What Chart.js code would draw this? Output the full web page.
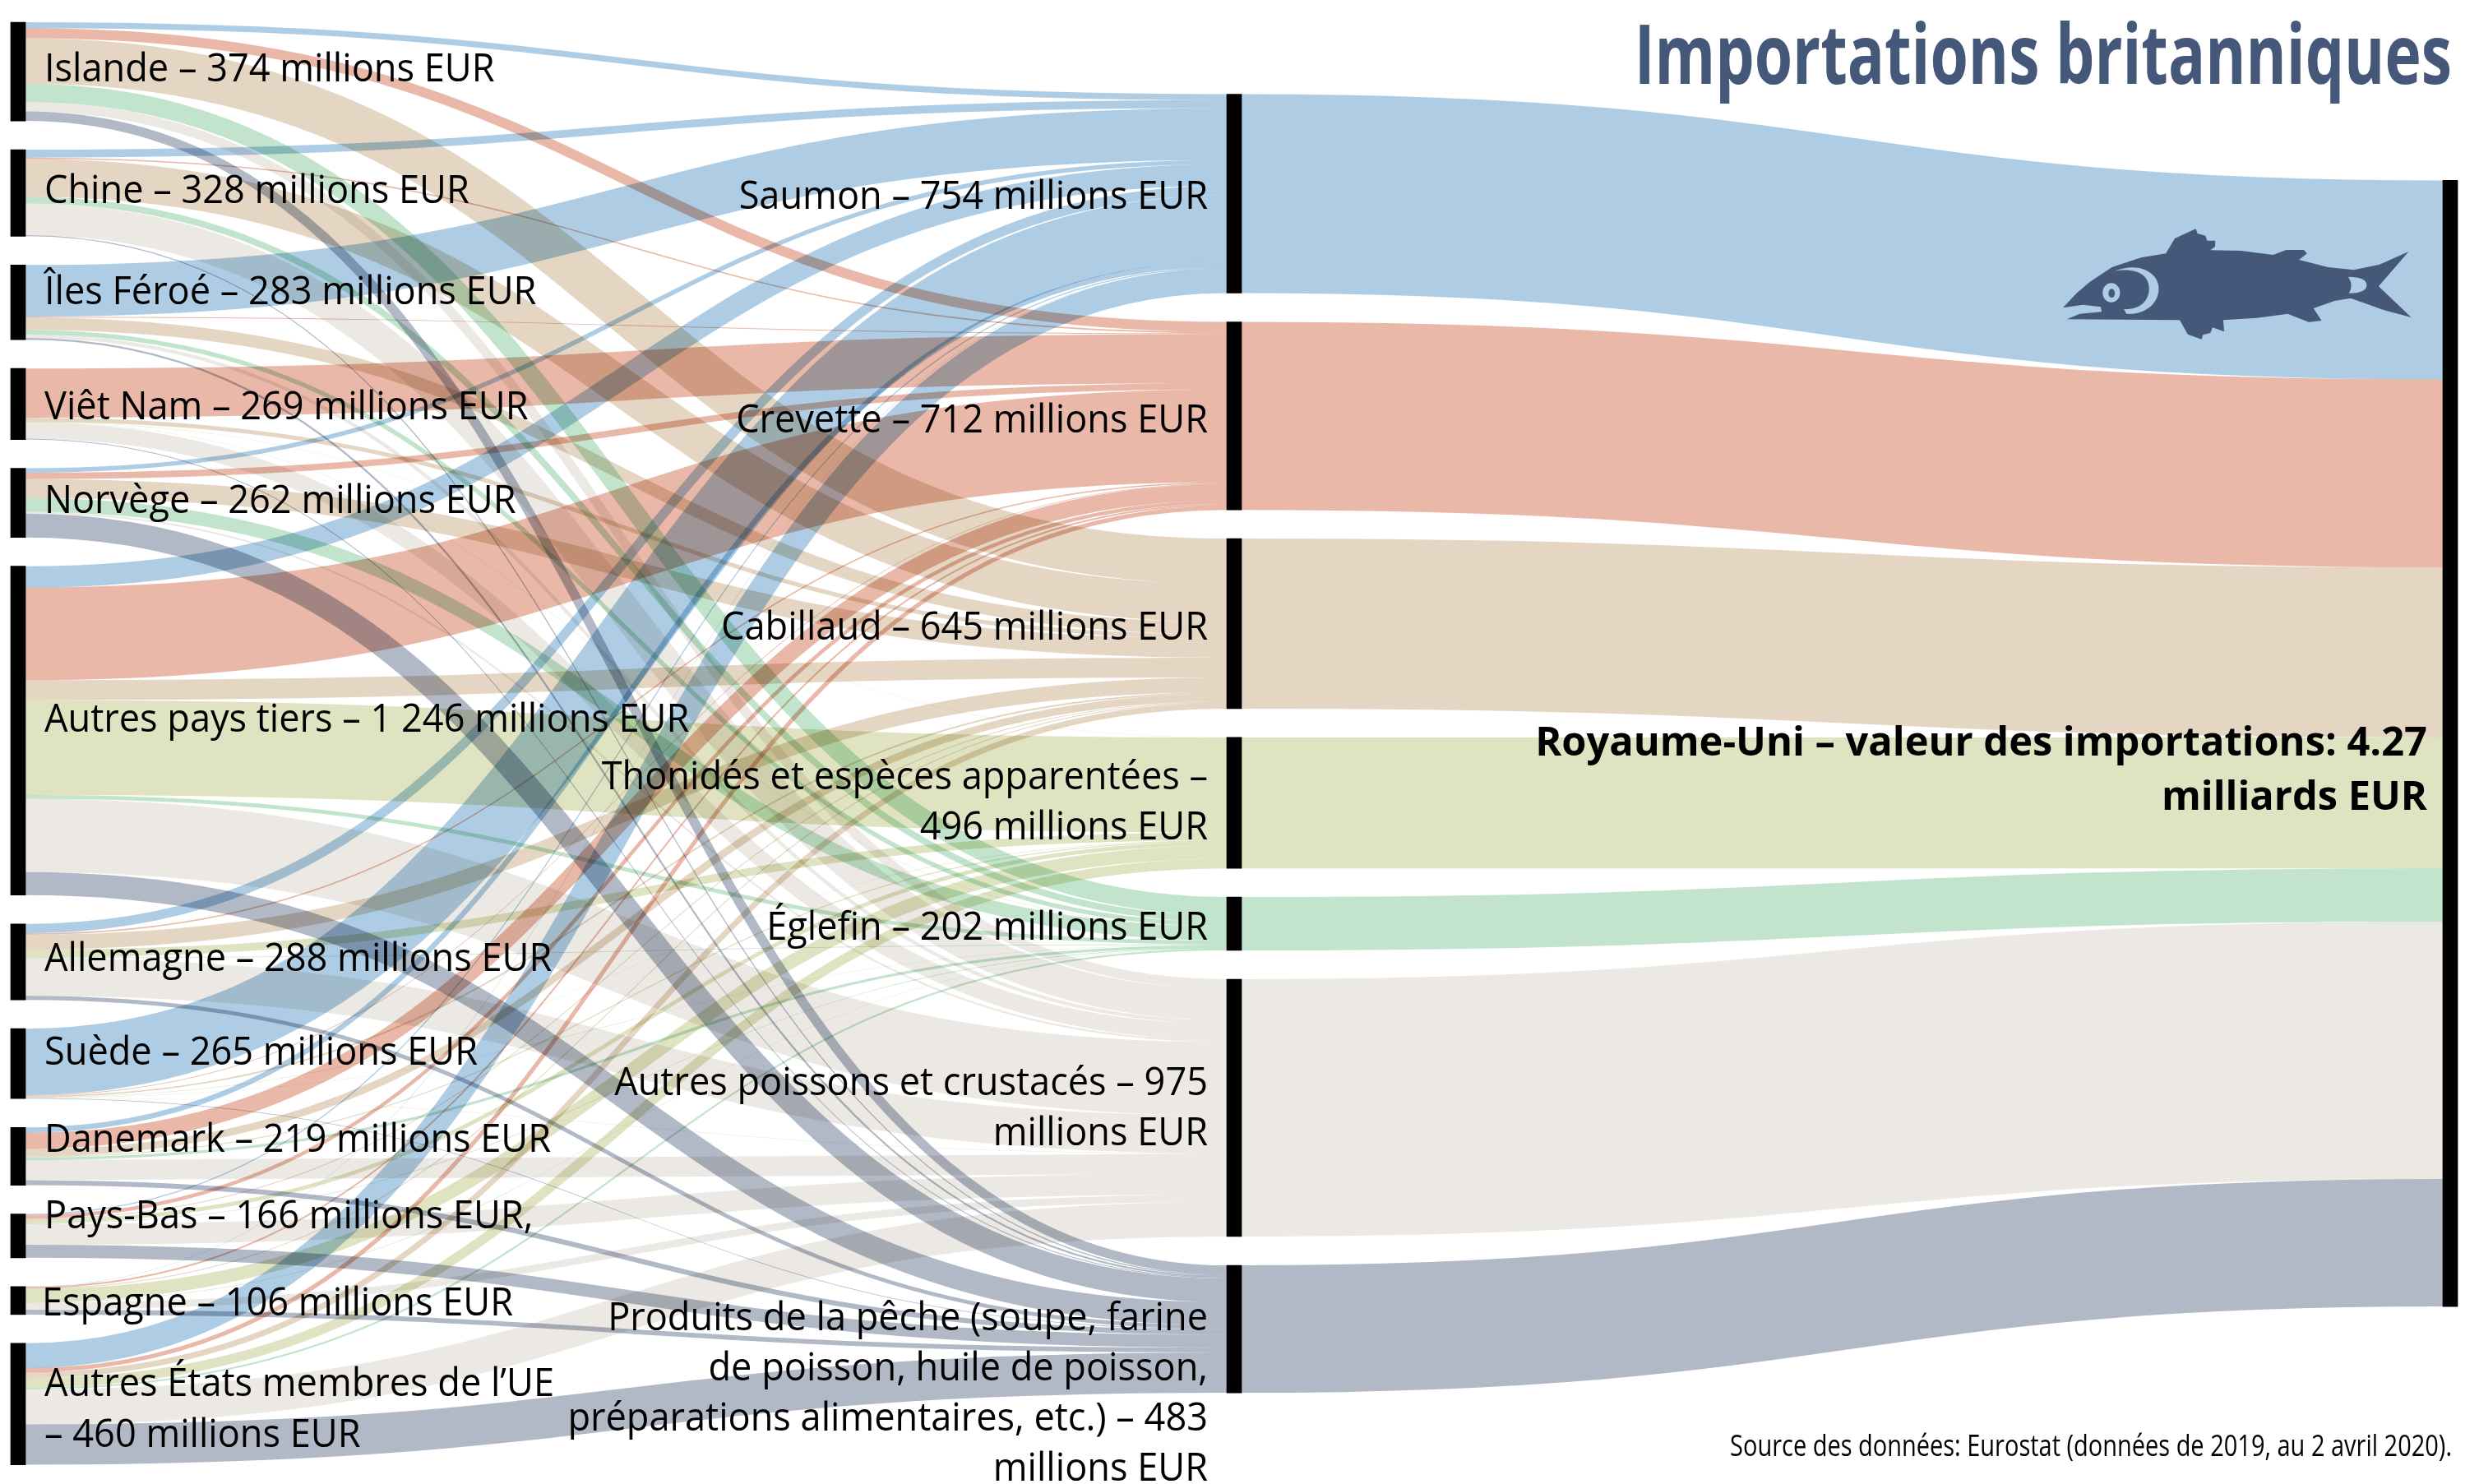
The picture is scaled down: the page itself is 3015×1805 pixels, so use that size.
<!DOCTYPE html>
<html lang="fr">
<head>
<meta charset="UTF-8">
<title>Importations britanniques</title>
<script src="https://cdn.jsdelivr.net/npm/chart.js"></script>
<style>
  html, body { margin: 0; padding: 0; background: #fff; }
  canvas { display: block; }
</style>
</head>
<body>
<canvas id="chart" width="3015" height="1805"></canvas>
<script>
// pays d'origine, de haut en bas
const origins = ['Islande', 'Chine', 'Îles Féroé', 'Viêt Nam', 'Norvège', 'Autres pays tiers',
  'Allemagne', 'Suède', 'Danemark', 'Pays-Bas', 'Espagne', 'Autres États membres'];
const products = ['Saumon', 'Crevette', 'Cabillaud', 'Thonidés', 'Églefin', 'Autres', 'Produits'];

// millions EUR, un tableau par produit, même ordre que origins
const saumon    = [23, 30, 196, 0, 17, 81, 36, 252, 20, 4, 1, 94];
const crevette  = [38, 5, 3, 186, 24, 351, 5, 2, 62, 14, 6, 16];
const cabillaud = [172, 144, 47, 16, 72, 75, 56, 6, 28, 3, 3, 22];
const thonides  = [0, 0, 0, 1, 0, 359, 30, 1, 4, 15, 50, 36];
const eglefin   = [69, 25, 17, 1, 52, 15, 2, 1, 10, 2, 1, 7];
const autres    = [36, 120, 13, 62, 7, 278, 144, 1, 76, 79, 27, 132];
const peche     = [36, 4, 7, 3, 90, 87, 15, 2, 19, 49, 18, 153];
const flows = [saumon, crevette, cabillaud, thonides, eglefin, autres, peche];

const productColors = ['#aecde4', '#e9b8a8', '#e4d6c3', '#e0e3c2', '#c2e4cc', '#ece9e4', '#b1b8c6'];

const originLabels = [
  ['Islande – 374 millions EUR'], ['Chine – 328 millions EUR'], ['Îles Féroé – 283 millions EUR'],
  ['Viêt Nam – 269 millions EUR'], ['Norvège – 262 millions EUR'], ['Autres pays tiers – 1 246 millions EUR'],
  ['Allemagne – 288 millions EUR'], ['Suède – 265 millions EUR'], ['Danemark – 219 millions EUR'],
  ['Pays-Bas – 166 millions EUR,'], ['Espagne – 106 millions EUR'],
  ['Autres États membres de l’UE', '– 460 millions EUR']
];
const productLabels = [
  ['Saumon – 754 millions EUR'], ['Crevette – 712 millions EUR'], ['Cabillaud – 645 millions EUR'],
  ['Thonidés et espèces apparentées –', '496 millions EUR'], ['Églefin – 202 millions EUR'],
  ['Autres poissons et crustacés – 975', 'millions EUR'],
  ['Produits de la pêche (soupe, farine', 'de poisson, huile de poisson,', 'préparations alimentaires, etc.) – 483', 'millions EUR']
];

// mise en page : ligne de base de la première ligne de chaque étiquette
const originBaselines = [99, 247, 370, 510, 624, 890, 1181, 1295, 1401, 1494, 1600, 1698];
const productBaselines = [254, 526, 778, 960, 1143, 1332, 1618];
const LINE_H = 61;
const GAP = 109;          // écart entre deux noeuds, en millions EUR
const NODE_W = 18;
const COL_W = 1479;       // distance entre deux colonnes, en pixels
const SQUEEZE = 0.94;     // la police d'origine est plus étroite

const sum = a => a.reduce((s, v) => s + v, 0);
const originTotals = origins.map((_, i) => sum(flows.map(f => f[i])));
const productTotals = flows.map(sum);
const grandTotal = sum(productTotals);

// empile les noeuds d'une colonne, centrée sur la colonne la plus haute
const leftSpan = sum(originTotals) + GAP * (origins.length - 1);
function stack(totals, gap) {
  const span = sum(totals) + gap * (totals.length - 1);
  let y = (leftSpan - span) / 2;
  return totals.map(t => { const top = y; y += t + gap; return top; });
}
const originTops = stack(originTotals, GAP);
const productTops = stack(productTotals, GAP);
const sinkTop = stack([grandTotal], 0)[0];

const nodeBars = [
  ...originTotals.map((t, i) => ({ x: 0, y: [originTops[i], originTops[i] + t] })),
  ...productTotals.map((t, i) => ({ x: 1, y: [productTops[i], productTops[i] + t] })),
  { x: 2, y: [sinkTop, sinkTop + grandTotal] }
];

function ribbon(ctx, xs, ys, x0, v0, x1, v1, value, color) {
  if (!value) return;
  const a = xs.getPixelForValue(x0) + NODE_W;
  const b = xs.getPixelForValue(x1);
  const ya = ys.getPixelForValue(v0);
  const yb = ys.getPixelForValue(v1);
  const mid = (a + b) / 2;
  ctx.beginPath();
  ctx.moveTo(a, ya);
  ctx.bezierCurveTo(mid, ya, mid, yb, b, yb);
  ctx.lineWidth = Math.abs(ys.getPixelForValue(value) - ys.getPixelForValue(0));
  ctx.strokeStyle = color;
  ctx.stroke();
}

const ribbonsPlugin = {
  id: 'ribbons',
  beforeDatasetsDraw(chart) {
    const { ctx, scales: { x, y } } = chart;
    ctx.save();
    ctx.fillStyle = '#fff';
    ctx.fillRect(0, 0, chart.width, chart.height);
    ctx.globalCompositeOperation = 'multiply';
    ctx.lineCap = 'butt';

    // pays -> produit
    flows.forEach((f, j) => {
      let midCursor = productTops[j];
      f.forEach((v, i) => {
        // à gauche les rubans sont rangés dans l'ordre des produits
        const before = flows.slice(0, j).reduce((s, g) => s + g[i], 0);
        ribbon(ctx, x, y, 0, originTops[i] + before + v / 2, 1, midCursor + v / 2, v, productColors[j]);
        midCursor += v;
      });
    });

    // produit -> Royaume-Uni
    let rightCursor = sinkTop;
    productTotals.forEach((t, j) => {
      ribbon(ctx, x, y, 1, productTops[j] + t / 2, 2, rightCursor + t / 2, t, productColors[j]);
      rightCursor += t;
    });
    ctx.restore();
  },
  afterDatasetsDraw(chart) {
    const { ctx, scales: { x } } = chart;
    ctx.save();
    ctx.textBaseline = 'alphabetic';
    const leftX = x.getPixelForValue(0) + NODE_W + 23;
    const midX = x.getPixelForValue(1) - 23;

    originLabels.forEach((lines, i) => lines.forEach((t, k) =>
      putText(ctx, t, leftX - (i === 10 ? 3 : 0), originBaselines[i] + k * 62, '48px "Open Sans"', '#000', 'left', SQUEEZE)));
    productLabels.forEach((lines, j) => lines.forEach((t, k) =>
      putText(ctx, t, midX, productBaselines[j] + k * LINE_H, '48px "Open Sans"', '#000', 'right', SQUEEZE)));

    putText(ctx, 'Royaume-Uni – valeur des importations: 4.27', 2952, 919, 'bold 49px "Open Sans"', '#000', 'right', 0.995);
    putText(ctx, 'milliards EUR', 2952, 985, 'bold 49px "Open Sans"', '#000', 'right', 0.995);
    putText(ctx, 'Importations britanniques', 2982, 102, 'bold 100px "Open Sans"', '#46587a', 'right', 0.75);
    putText(ctx, 'Source des données: Eurostat (données de 2019, au 2 avril 2020).', 2982, 1771, '36px "Open Sans"', '#000', 'right', 0.805);

    drawFish(ctx);
    ctx.restore();
  }
};

function putText(ctx, text, px, py, font, color, align, squeeze) {
  ctx.save();
  ctx.font = font;
  ctx.fillStyle = color;
  ctx.textAlign = align;
  ctx.translate(px, py);
  ctx.scale(squeeze, 1);
  ctx.fillText(text, 0, 0);
  ctx.restore();
}

// pictogramme du poisson (pas une donnée)
const fishOutline = [[278,1123],[320,1070],[360,1030],[430,975],[520,940],[597,925],[625,870],[690,835],[695,852],[720,860],
  [725,878],[750,878],[750,900],[735,913],[830,915],[930,930],[970,912],[1025,912],[1035,925],[1010,948],[1100,975],
  [1180,985],[1260,965],[1350,918],[1257,1045],[1358,1158],[1270,1130],[1210,1105],[1170,1088],[1120,1098],[1055,1125],
  [1080,1170],[1040,1175],[975,1145],[880,1160],[775,1168],[778,1210],[742,1195],[735,1215],[712,1222],[708,1238],
  [665,1220],[640,1168],[290,1165],[330,1145],[398,1138],[395,1120],[340,1112]];

function drawFish(ctx) {
  ctx.save();
  ctx.translate(2400, 0);
  ctx.scale(1 / 2.55, 1 / 3);
  ctx.fillStyle = '#46587a';
  ctx.beginPath();
  fishOutline.forEach((p, i) => i ? ctx.lineTo(p[0], p[1]) : ctx.moveTo(p[0], p[1]));
  ctx.closePath();
  ctx.fill();

  ctx.fillStyle = '#aecde4';
  ctx.beginPath();
  ctx.ellipse(428, 1068, 27, 35, 0, 0, Math.PI * 2);
  ctx.fill();
  ctx.beginPath();
  ctx.moveTo(435, 990);
  ctx.bezierCurveTo(520, 950, 575, 1000, 575, 1052);
  ctx.bezierCurveTo(575, 1110, 530, 1150, 475, 1145);
  ctx.lineTo(467, 1128);
  ctx.bezierCurveTo(520, 1130, 545, 1095, 545, 1052);
  ctx.bezierCurveTo(545, 1000, 500, 975, 435, 990);
  ctx.fill();
  ctx.beginPath();
  ctx.moveTo(1163, 1010);
  ctx.bezierCurveTo(1200, 1010, 1220, 1020, 1220, 1040);
  ctx.bezierCurveTo(1220, 1060, 1200, 1070, 1165, 1070);
  ctx.quadraticCurveTo(1180, 1040, 1163, 1010);
  ctx.fill();

  ctx.fillStyle = '#46587a';
  ctx.beginPath();
  ctx.ellipse(429, 1070, 10, 16, 0, 0, Math.PI * 2);
  ctx.fill();
  ctx.restore();
}

new Chart(document.getElementById('chart').getContext('2d'), {
  type: 'bar',
  data: {
    datasets: [{
      label: 'Noeuds',
      data: nodeBars.map(b => ({ x: b.x + NODE_W / 2 / COL_W, y: b.y })),
      backgroundColor: '#000',
      borderWidth: 0,
      barThickness: NODE_W
    }]
  },
  options: {
    responsive: false,
    animation: false,
    layout: { padding: 0 },
    plugins: { legend: { display: false }, tooltip: { enabled: false } },
    scales: {
      x: { type: 'linear', display: false, offset: false, min: -13 / COL_W, max: (3015 - 13) / COL_W },
      y: { type: 'linear', display: false, reverse: true, min: -84, max: 5538 }
    }
  },
  plugins: [ribbonsPlugin]
});
</script>
</body>
</html>
